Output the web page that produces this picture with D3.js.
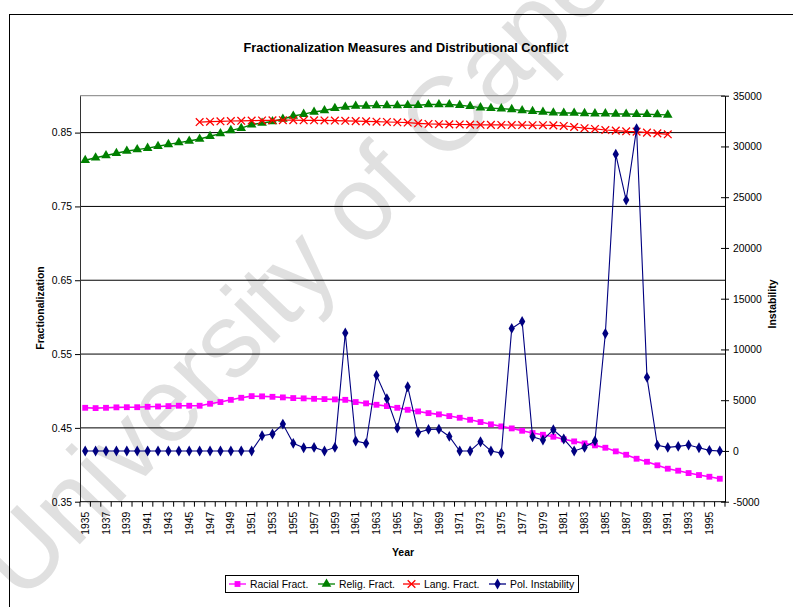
<!DOCTYPE html>
<html>
<head>
<meta charset="utf-8">
<script src="https://cdn.jsdelivr.net/npm/d3@7/dist/d3.min.js"></script>
<style>
  body { margin: 0; background: #fff; }
  svg { display: block; }
  text { font-family: "Liberation Sans", Arial, sans-serif; fill: #000; }
</style>
</head>
<body>
<svg id="chart" width="793" height="607"></svg>
<script>
// ---- data ----
const years = [1935,1936,1937,1938,1939,1940,1941,1942,1943,1944,1945,1946,1947,1948,1949,1950,
  1951,1952,1953,1954,1955,1956,1957,1958,1959,1960,1961,1962,1963,1964,1965,1966,1967,1968,1969,1970,
  1971,1972,1973,1974,1975,1976,1977,1978,1979,1980,1981,1982,1983,1984,1985,1986,1987,1988,1989,1990,
  1991,1992,1993,1994,1995,1996];

const racialFract = [0.4772,0.4768,0.4772,0.4778,0.478,0.478,0.4786,0.479,0.4795,0.48,0.48,0.48,
  0.4827,0.485,0.488,0.4908,0.493,0.4927,0.4921,0.4913,0.4904,0.49,0.4894,0.489,0.4886,0.488,
  0.485,0.4832,0.4813,0.4795,0.4772,0.4745,0.4723,0.470,0.4683,0.466,0.4637,0.461,0.4579,0.4548,
  0.452,0.4493,0.4461,0.443,0.4407,0.438,0.4345,0.4317,0.429,0.4263,0.4231,0.4182,0.4136,0.4082,
  0.4041,0.3993,0.3947,0.392,0.3888,0.3861,0.3838,0.3811];

const religFract = [0.8125,0.816,0.819,0.822,0.825,0.827,0.829,0.8315,0.834,0.8365,
  0.8386,0.8413,0.845,0.8487,0.853,0.856,0.8608,0.863,0.865,0.8685,
  0.8725,0.875,0.878,0.880,0.883,0.8846,0.886,0.886,0.8866,0.8866,
  0.8868,0.887,0.887,0.888,0.888,0.888,0.887,0.8856,0.8838,0.883,
  0.8825,0.8815,0.880,0.8788,0.878,0.877,0.8765,0.8765,0.876,0.8757,
  0.8757,0.8752,0.8752,0.8748,0.8748,0.8744,0.874,
  null,null,null,null,null];

const langFract = [null,null,null,null,null,null,null,null,null,null,null,
  0.8643,0.8648,0.8653,0.8657,0.866,0.8663,0.8665,0.8667,0.8668,0.8668,0.8667,0.8667,0.8665,
  0.8663,0.866,0.8656,0.8652,0.8648,0.8644,0.864,0.8636,0.8626,0.8617,0.8614,0.8612,0.861,
  0.8608,0.8606,0.8605,0.8604,0.8603,0.8602,0.86,0.86,0.8598,0.859,0.8576,0.856,0.855,0.8535,
  0.8527,0.8518,0.8513,0.85,0.849,0.8477,
  null,null,null,null,null];

const polInstability = [0,0,0,0,0,0,0,0,0,0,0,0,0,0,0,0,0,
  1500,1670,2650,750,320,350,0,350,11620,980,750,7450,5150,2260,6330,1820,2120,2150,1430,
  0,0,910,0,-200,12070,12750,1400,1080,2090,1180,0,350,980,11570,29230,24720,31750,7250,
  550,350,450,590,320,60,0];

const leftTicks = [0.35,0.45,0.55,0.65,0.75,0.85];
const rightTicks = [-5000,0,5000,10000,15000,20000,25000,30000,35000];

const titleText = "Fractionalization Measures and Distributional Conflict";
const legendLabels = ["Racial Fract.","Relig. Fract.","Lang. Fract.","Pol. Instability"];

// ---- layout ----
const svg = d3.select("#chart");
const X0 = 80, X1 = 725, YT = 95.7, YB = 501.7;

const x = d3.scaleBand().domain(years).range([X0, X1]);
const cx = y => x(y) + x.bandwidth() / 2;
const yL = d3.scaleLinear().domain([0.35, 0.9]).range([YB, YT]);
const yR = d3.scaleLinear().domain([-5000, 35000]).range([YB, YT]);

// watermark lettering behind the chart
svg.append("text")
  .attr("transform", "translate(22,604) rotate(-46)")
  .attr("font-size", 105)
  .style("fill", "#e0e0e0")
  .text("University of Cape Town");

// outer chart frame
svg.append("rect")
  .attr("x", 9.5).attr("y", 14.5).attr("width", 820).attr("height", 640)
  .attr("fill", "none").attr("stroke", "#000").attr("stroke-width", 1);

// title
svg.append("text")
  .attr("x", 406).attr("y", 52)
  .attr("text-anchor", "middle")
  .attr("font-size", 12.7).attr("font-weight", "bold")
  .text(titleText);

// gridlines at the left-axis ticks, plus the plot-area top edge
svg.append("g").selectAll("line")
  .data(leftTicks.filter(t => t > 0.35))
  .join("line")
  .attr("x1", X0).attr("x2", X1)
  .attr("y1", d => yL(d)).attr("y2", d => yL(d))
  .attr("stroke", "#000").attr("stroke-width", 1);
svg.append("line")
  .attr("x1", X0).attr("x2", X1).attr("y1", yL(0.9)).attr("y2", yL(0.9))
  .attr("stroke", "#808080").attr("stroke-width", 1);

// left axis
const gL = svg.append("g").attr("transform", `translate(${X0},0)`)
  .call(d3.axisLeft(yL).tickValues(leftTicks).tickFormat(d3.format(".2f"))
    .tickSize(5).tickSizeOuter(0).tickPadding(3));
gL.select(".domain").attr("stroke", "#333");
gL.selectAll("text").attr("font-size", 10.4).style("font-family", '"Liberation Sans", Arial, sans-serif');

// right axis (ticks cross the axis line)
const gR = svg.append("g").attr("transform", `translate(${X1},0)`)
  .call(d3.axisRight(yR).tickValues(rightTicks).tickFormat(d => String(d))
    .tickSize(4).tickSizeOuter(0).tickPadding(4));
gR.selectAll(".tick line").attr("x1", -4);
gR.selectAll("text").attr("font-size", 10.4).style("font-family", '"Liberation Sans", Arial, sans-serif');

// bottom axis: ticks between categories, labels on every other year
const gB = svg.append("g");
gB.append("line").attr("x1", X0).attr("x2", X1).attr("y1", YB).attr("y2", YB).attr("stroke", "#000");
gB.selectAll("line.tk")
  .data(years.map(y => x(y)).concat([X1]))
  .join("line").attr("class", "tk")
  .attr("x1", d => d).attr("x2", d => d)
  .attr("y1", YB).attr("y2", YB + 5)
  .attr("stroke", "#000");
gB.selectAll("text")
  .data(years.filter((y, i) => i % 2 === 0))
  .join("text")
  .attr("transform", d => `translate(${cx(d)},${YB + 10}) rotate(-90)`)
  .attr("text-anchor", "end")
  .attr("dy", "0.35em")
  .attr("font-size", 10.4)
  .text(d => d);

// axis titles
svg.append("text")
  .attr("transform", "translate(44,308) rotate(-90)")
  .attr("text-anchor", "middle")
  .attr("font-size", 10.5).attr("font-weight", "bold")
  .text("Fractionalization");
svg.append("text")
  .attr("transform", "translate(776,304) rotate(-90)")
  .attr("text-anchor", "middle")
  .attr("font-size", 10.5).attr("font-weight", "bold")
  .text("Instability");
svg.append("text")
  .attr("x", 403).attr("y", 556)
  .attr("text-anchor", "middle")
  .attr("font-size", 10.5).attr("font-weight", "bold")
  .text("Year");

// ---- marker shapes ----
const sym = {
  square: d3.symbol().type(d3.symbolSquare).size(34),
  triangle: d3.symbol().type(d3.symbolTriangle).size(40),
  diamond: d3.symbol().type(d3.symbolDiamond).size(34),
  cross: d3.symbol().type(d3.symbolX).size(40)
};

const series = [
  { name: legendLabels[0], values: racialFract, scale: yL, color: "#ff00ff", marker: "square", width: 1.6 },
  { name: legendLabels[1], values: religFract, scale: yL, color: "#008000", marker: "triangle", width: 1.4 },
  { name: legendLabels[2], values: langFract, scale: yL, color: "#ff0000", marker: "cross", width: 1.2 },
  { name: legendLabels[3], values: polInstability, scale: yR, color: "#000080", marker: "diamond", width: 1.1 }
];

function drawMarker(g, type, color) {
  const p = g.append("path").attr("d", sym[type]());
  if (type === "cross") p.attr("fill", "none").attr("stroke", color).attr("stroke-width", 1.3);
  else p.attr("fill", color).attr("stroke", "none");
  return p;
}

const plot = svg.append("g");
series.forEach(s => {
  const pts = years.map((yr, i) => ({ yr, v: s.values[i] })).filter(d => d.v !== null);
  const line = d3.line().x(d => cx(d.yr)).y(d => s.scale(d.v));
  plot.append("path").datum(pts)
    .attr("d", line).attr("fill", "none")
    .attr("stroke", s.color).attr("stroke-width", s.width);
  pts.forEach(d => {
    const g = plot.append("g").attr("transform", `translate(${cx(d.yr)},${s.scale(d.v)})`);
    drawMarker(g, s.marker, s.color);
  });
});

// ---- legend ----
const lg = svg.append("g");
lg.append("rect").attr("x", 225.5).attr("y", 575.5).attr("width", 353).attr("height", 17)
  .attr("fill", "#fff").attr("stroke", "#000").attr("stroke-width", 1);
const legendX = [229, 318, 403, 489];
series.forEach((s, i) => {
  const g = lg.append("g").attr("transform", `translate(${legendX[i]},584)`);
  g.append("line").attr("x1", 0).attr("x2", 17).attr("stroke", s.color).attr("stroke-width", 1.3);
  drawMarker(g.append("g").attr("transform", "translate(8.5,0)"), s.marker, s.color);
  g.append("text").attr("x", 21).attr("dy", "0.35em").attr("font-size", 10.4).text(s.name);
});
</script>
</body>
</html>
